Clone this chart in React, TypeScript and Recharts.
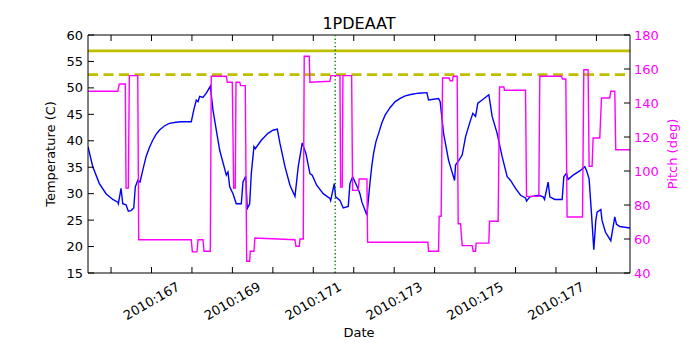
import { LineChart, Line, XAxis, YAxis, ReferenceLine } from 'recharts';

// day-of-year 2010, temperature (C)
const tempDays = [
  165.43, 165.548, 165.711, 165.876, 166.042, 166.166, 166.18, 166.247, 166.289, 166.371,
  166.427, 166.494, 166.561, 166.6, 166.66, 166.717, 166.783, 166.865, 166.946, 167.03,
  167.112, 167.193, 167.317, 167.441, 167.606, 167.73, 167.984, 168.044, 168.108, 168.15,
  168.192, 168.273, 168.355, 168.454, 168.52, 168.602, 168.686, 168.809, 168.849, 168.891,
  168.933, 169.015, 169.096, 169.22, 169.262, 169.328, 169.368, 169.427, 169.467, 169.533,
  169.566, 169.714, 169.879, 170.003, 170.109, 170.176, 170.3, 170.423, 170.547, 170.628,
  170.727, 170.818, 170.917, 170.974, 171.083, 171.246, 171.411, 171.429, 171.518, 171.552,
  171.659, 171.74, 171.864, 171.906, 171.972, 172.086, 172.153, 172.202, 172.326, 172.368,
  172.407, 172.449, 172.491, 172.548, 172.615, 172.696, 172.778, 172.901, 173.025, 173.149,
  173.272, 173.438, 173.603, 173.808, 173.85, 174.097, 174.137, 174.221, 174.345, 174.493,
  174.517, 174.599, 174.681, 174.765, 174.888, 174.945, 175.012, 175.068, 175.175, 175.34,
  175.422, 175.545, 175.669, 175.793, 175.877, 176.0, 176.124, 176.247, 176.272, 176.353,
  176.576, 176.682, 176.717, 176.806, 176.848, 176.971, 177.152, 177.194, 177.26, 177.3,
  177.423, 177.589, 177.712, 177.754, 177.819, 177.878, 177.935, 177.984, 178.017, 178.108,
  178.14, 178.224, 178.355, 178.454, 178.496, 178.577, 178.83,
];
const tempValues = [
  38.9, 35.1, 31.9, 30.0, 28.9, 28.4, 28.1, 31.0, 28.1, 27.9,
  26.7, 26.8, 27.3, 31.3, 32.5, 32.2, 34.4, 37.0, 38.7, 40.1,
  41.2, 42.0, 42.8, 43.3, 43.5, 43.6, 43.6, 45.8, 47.7, 47.4,
  48.4, 48.2, 49.0, 50.3, 45.8, 42.0, 38.2, 34.7, 33.5, 34.1,
  31.3, 30.0, 28.1, 28.1, 32.2, 33.3, 27.2, 28.1, 33.8, 38.9,
  38.5, 40.1, 41.4, 42.0, 42.2, 39.5, 35.1, 31.6, 29.5, 35.1,
  39.6, 37.6, 33.8, 33.5, 31.6, 30.0, 29.1, 28.7, 31.9, 29.4,
  28.7, 27.3, 27.6, 31.9, 33.2, 31.3, 30.0, 28.4, 25.9, 29.4,
  32.5, 35.4, 37.6, 39.8, 41.4, 43.4, 44.9, 46.3, 47.4, 48.0,
  48.5, 48.8, 49.0, 49.1, 47.7, 48.0, 47.4, 41.4, 36.3, 32.5,
  35.4, 36.3, 37.3, 40.8, 43.9, 45.2, 44.6, 47.1, 47.7, 48.7,
  44.6, 41.4, 37.0, 33.2, 32.5, 31.0, 29.7, 29.2, 28.6, 29.4,
  29.7, 29.4, 28.9, 32.2, 29.4, 28.9, 28.9, 33.2, 33.9, 32.7,
  33.5, 34.3, 35.1, 34.4, 32.8, 26.2, 19.4, 24.9, 26.5, 27.0,
  24.9, 22.7, 21.1, 25.6, 24.2, 23.8, 23.5,
];

// day-of-year 2010, pitch (deg)
const pitchDays = [
  165.43, 166.166, 166.205, 166.353, 166.371, 166.427, 166.452, 166.66, 166.684, 167.984,
  168.009, 168.125, 168.15, 168.273, 168.298, 168.454, 168.478, 168.849, 168.874, 168.997,
  169.032, 169.071, 169.089, 169.18, 169.205, 169.318, 169.353, 169.427, 169.442, 169.533,
  169.558, 170.547, 170.571, 170.653, 170.67, 170.752, 170.776, 170.9, 170.917, 171.411,
  171.436, 171.659, 171.676, 171.716, 171.733, 171.948, 171.972, 172.111, 172.135, 172.326,
  172.343, 173.833, 173.85, 174.097, 174.112, 174.161, 174.196, 174.359, 174.384, 174.443,
  174.458, 174.557, 174.582, 174.641, 174.681, 174.928, 174.953, 175.012, 175.027, 175.34,
  175.357, 175.57, 175.605, 175.711, 175.728, 176.247, 176.272, 176.576, 176.6, 177.137,
  177.161, 177.243, 177.275, 177.656, 177.688, 177.794, 177.819, 177.893, 177.918, 178.083,
  178.125, 178.33, 178.355, 178.454, 178.478, 178.83,
];
const pitchValues = [
  146.9, 146.9, 151.2, 151.2, 90.0, 90.0, 156.1, 156.1, 59.6, 59.6,
  52.4, 52.4, 59.6, 59.6, 52.8, 52.8, 155.7, 155.7, 152.2, 152.2,
  90.0, 90.0, 152.2, 152.2, 150.2, 150.2, 46.9, 46.9, 52.8, 52.8,
  60.6, 59.6, 55.7, 55.7, 60.0, 60.0, 167.5, 167.5, 152.2, 152.8,
  156.1, 156.1, 90.6, 90.6, 156.1, 156.1, 88.6, 88.6, 95.3, 95.3,
  58.1, 58.1, 52.8, 52.8, 73.4, 73.4, 154.7, 154.7, 153.1, 153.1,
  155.7, 155.7, 69.0, 69.0, 56.1, 56.1, 52.8, 52.8, 57.6, 57.6,
  70.4, 70.4, 149.4, 149.4, 147.5, 147.5, 85.1, 85.1, 155.7, 155.7,
  154.1, 154.1, 72.9, 72.9, 159.6, 159.6, 102.8, 102.8, 119.4, 119.4,
  142.9, 142.9, 146.9, 146.9, 112.5, 112.5,
];

const dayTicks = [166, 167, 168, 169, 170, 171, 172, 173, 174, 175, 176, 177, 178];
const tempTicks = [15, 20, 25, 30, 35, 40, 45, 50, 55, 60];
const pitchTicks = [40, 60, 80, 100, 120, 140, 160, 180];
const dayDomain = [165.43, 178.83];
const tempLimit = 57;
const tempCaution = 52.5;
const markerDay = 171.542;

const tempData = tempDays.map((day, i) => ({ day, temp: tempValues[i] }));
const pitchData = pitchDays.map((day, i) => ({ day, pitch: pitchValues[i] }));

const FONT = '"DejaVu Sans", sans-serif';
const LEFT = 88;
const RIGHT = 630;
const TOP = 35;
const BOTTOM = 273;

function DayTick({ x, payload }: any) {
  const v = payload.value;
  return (
    <g>
      <line x1={x} x2={x} y1={BOTTOM} y2={BOTTOM - 6} stroke="#000" />
      <line x1={x} x2={x} y1={TOP} y2={TOP + 6} stroke="#000" />
      {v % 2 === 1 && (
        <text
          x={x}
          y={301}
          textAnchor="middle"
          dominantBaseline="central"
          transform={`rotate(-30 ${x} 301)`}
          fontSize={13}
          fontFamily={FONT}
          fill="#000"
        >
          {`2010:${v}`}
        </text>
      )}
    </g>
  );
}

function TempTick({ y, payload }: any) {
  return (
    <g>
      <line x1={LEFT} x2={LEFT + 6} y1={y} y2={y} stroke="#000" />
      <text x={83} y={y} textAnchor="end" dominantBaseline="central" fontSize={13} fontFamily={FONT} fill="#000">
        {payload.value}
      </text>
    </g>
  );
}

function PitchTick({ y, payload }: any) {
  return (
    <g>
      <line x1={RIGHT - 6} x2={RIGHT} y1={y} y2={y} stroke="#000" />
      <text x={634} y={y} textAnchor="start" dominantBaseline="central" fontSize={13} fontFamily={FONT} fill="#ff00ff">
        {payload.value}
      </text>
    </g>
  );
}

export default function App() {
  return (
    <div style={{ position: 'absolute', left: 0, top: 0, width: 700, height: 350, background: '#fff' }}>
      <LineChart width={700} height={350} margin={{ top: TOP, right: 0, bottom: 0, left: 0 }}>
        <XAxis
          type="number"
          dataKey="day"
          domain={dayDomain}
          allowDataOverflow
          ticks={dayTicks}
          interval={0}
          tick={(p: any) => <DayTick {...p} />}
          tickLine={false}
          axisLine={{ stroke: '#000' }}
          height={350 - BOTTOM}
        />
        <YAxis
          yAxisId="temp"
          orientation="left"
          width={LEFT}
          domain={[15, 60]}
          ticks={tempTicks}
          interval={0}
          tick={(p: any) => <TempTick {...p} />}
          tickLine={false}
          axisLine={{ stroke: '#000' }}
        />
        <YAxis
          yAxisId="pitch"
          orientation="right"
          width={700 - RIGHT}
          domain={[40, 180]}
          ticks={pitchTicks}
          interval={0}
          tick={(p: any) => <PitchTick {...p} />}
          tickLine={false}
          axisLine={{ stroke: '#000' }}
        />
        <ReferenceLine yAxisId="temp" y={60} stroke="#000" />
        <Line
          yAxisId="temp"
          data={tempData}
          dataKey="temp"
          type="linear"
          stroke="#0000ff"
          strokeWidth={1.4}
          dot={false}
          activeDot={false}
          isAnimationActive={false}
        />
        <ReferenceLine yAxisId="temp" y={tempLimit} stroke="#bfbf00" strokeWidth={2.6} />
        <ReferenceLine yAxisId="temp" y={tempCaution} stroke="#bfbf00" strokeWidth={2.6} strokeDasharray="10 5.5" />
        <ReferenceLine yAxisId="temp" x={markerDay} stroke="#008000" strokeWidth={1.4} strokeDasharray="1.4 2.3" />
        <Line
          yAxisId="pitch"
          data={pitchData}
          dataKey="pitch"
          type="linear"
          stroke="#ff00ff"
          strokeWidth={1.4}
          dot={false}
          activeDot={false}
          isAnimationActive={false}
        />
      </LineChart>
      <svg
        width={700}
        height={350}
        style={{ position: 'absolute', left: 0, top: 0, pointerEvents: 'none' }}
        fontFamily={FONT}
      >
        <text x={(LEFT + RIGHT) / 2} y={29} textAnchor="middle" fontSize={16} fill="#000">
          1PDEAAT
        </text>
        <text x={(LEFT + RIGHT) / 2} y={337} textAnchor="middle" fontSize={13} fill="#000">
          Date
        </text>
        <text transform={`translate(55 ${(TOP + BOTTOM) / 2}) rotate(-90)`} textAnchor="middle" fontSize={13} fill="#000">
          Temperature (C)
        </text>
        <text transform={`translate(677 ${(TOP + BOTTOM) / 2}) rotate(-90)`} textAnchor="middle" fontSize={13} fill="#ff00ff">
          Pitch (deg)
        </text>
      </svg>
    </div>
  );
}
